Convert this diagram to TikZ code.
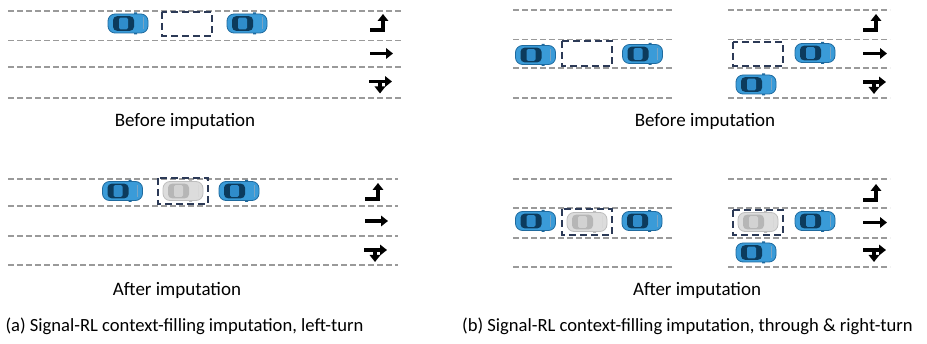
\documentclass[tikz,border=0pt]{standalone}
\usepackage{fontspec}
\setmainfont{Carlito}
\usetikzlibrary{arrows.meta}

\definecolor{carblue}{HTML}{3A9BD8}
\definecolor{carrim}{HTML}{1F6A9E}
\definecolor{carcabin}{HTML}{0C3B5D}
\definecolor{carroof}{HTML}{2F8CCB}
\definecolor{cargrey}{HTML}{DCDCDC}
\definecolor{greyrim}{HTML}{BDBDBD}
\definecolor{greycabin}{HTML}{B6B6B6}
\definecolor{greyroof}{HTML}{D2D2D2}
\definecolor{lanegrey}{HTML}{9A9A9A}
\definecolor{gapnavy}{HTML}{2C3A57}

\tikzset{
  lane/.style={lanegrey, line width=1.2pt, dash pattern=on 6pt off 3pt},
  gap/.style={gapnavy, line width=1.8pt, dash pattern=on 7pt off 4pt},
  sig/.style={line width=3.8pt, -{Triangle[length=7pt,width=10.5pt]}},
  lbl/.style={font=\fontsize{19}{22}\selectfont},
  pics/car/.style n args={4}{code={
    % side mirrors
    \fill[#2] (6,-11) rectangle (9,-8) (6,8) rectangle (9,11);
    \draw[fill=#1, draw=#2, line width=0.8pt, rounded corners=7pt] (-20,-9.5) rectangle (20,9.5);
    \fill[#3, rounded corners=4pt] (-15,-7.3) rectangle (6,7.3);
    \fill[#4, rounded corners=1.5pt] (-9,-5.8) rectangle (0,5.8);
    \draw[#2!60!white, line width=0.5pt] (15,-6) -- (15,6);
  }},
  pics/bluecar/.style={car={carblue}{carrim}{carcabin}{carroof}},
  pics/greycar/.style={car={cargrey}{greyrim}{greycabin}{greyroof}}
}

\begin{document}
\begin{tikzpicture}[x=1pt, y=-1pt]
\useasboundingbox (0,0) rectangle (927,344);

% (a) left-turn, before
\draw[lane] (8,11) -- (402,11);
\draw[lane] (8,40.5) -- (402,40.5);
\draw[lane] (8,67) -- (402,67);
\draw[lane] (8,98) -- (402,98);
\pic (a1) at (128,23.5) {bluecar};
\draw[gap] (162,12) rectangle (212,36);
\pic (a2) at (247,23.5) {bluecar};
\draw[sig] (370,30) -| (383,14);
\draw[sig] (370,53.5) -- (393,53.5);
\draw[sig] (369,81.5) -- (392,81.5);
\draw[sig] (380,81.5) -- (380,93.5);
\node[lbl] (abefore) at (185,121) {Before imputation};

% (a) left-turn, after
\draw[lane] (8,179) -- (398,179);
\draw[lane] (8,206) -- (398,206);
\draw[lane] (8,236) -- (398,236);
\draw[lane] (8,265) -- (398,265);
\pic (a3) at (122.5,191) {bluecar};
\pic (a4) at (183,191) {greycar};
\draw[gap] (158,178) rectangle (208,204);
\pic (a5) at (239,191) {bluecar};
\draw[sig] (365,199) -| (378,183);
\draw[sig] (365,221) -- (388,221);
\draw[sig] (364,250) -- (387,250);
\draw[sig] (375,250) -- (375,262);
\node[lbl] (aafter) at (177,290) {After imputation};

\node[lbl, font=\fontsize{18.6}{22}\selectfont] (acap) at (184.5,326) {(a) Signal-RL context-filling imputation, left-turn};

% (b) through & right-turn, before
\draw[lane] (513,10) -- (672,10);
\draw[lane] (513,39.5) -- (672,39.5);
\draw[lane] (513,68) -- (672,68);
\draw[lane] (513,98) -- (672,98);
\pic (b1) at (535.5,55) {bluecar};
\draw[gap] (562,41) rectangle (612,66);
\pic (b2) at (642.5,54) {bluecar};

\draw[lane] (728,10) -- (890,10);
\draw[lane] (728,39.5) -- (890,39.5);
\draw[lane] (728,68) -- (890,68);
\draw[lane] (728,98) -- (890,98);
\draw[gap] (733,42) rectangle (783,66);
\pic (b3) at (815,53) {bluecar};
\pic (b4) at (756,84.5) {bluecar};
\draw[sig] (863,30) -| (876,14);
\draw[sig] (863,53.5) -- (887,53.5);
\draw[sig] (863,82) -- (886,82);
\draw[sig] (874,82) -- (874,94);
\node[lbl] (bbefore) at (705,121) {Before imputation};

% (b) through & right-turn, after
\draw[lane] (513,179) -- (672,179);
\draw[lane] (513,208) -- (672,208);
\draw[lane] (513,238) -- (672,238);
\draw[lane] (513,267) -- (672,267);
\pic (b5) at (535.5,221) {bluecar};
\pic (b6) at (587,222) {greycar};
\draw[gap] (562,209) rectangle (612,235);
\pic (b7) at (642,221) {bluecar};

\draw[lane] (728,179) -- (890,179);
\draw[lane] (728,208) -- (890,208);
\draw[lane] (728,238) -- (890,238);
\draw[lane] (728,267) -- (890,267);
\pic (b8) at (758,222) {greycar};
\draw[gap] (733,210) rectangle (783,235);
\pic (b9) at (815,221) {bluecar};
\pic (b10) at (756,252.5) {bluecar};
\draw[sig] (863,200) -| (876,184);
\draw[sig] (863,222.5) -- (887,222.5);
\draw[sig] (863,250) -- (886,250);
\draw[sig] (874,250) -- (874,262);
\node[lbl] (bafter) at (697,290) {After imputation};

\node[lbl, font=\fontsize{18.6}{22}\selectfont] (bcap) at (687.5,326) {(b) Signal-RL context-filling imputation, through \& right-turn};
\end{tikzpicture}
\end{document}
